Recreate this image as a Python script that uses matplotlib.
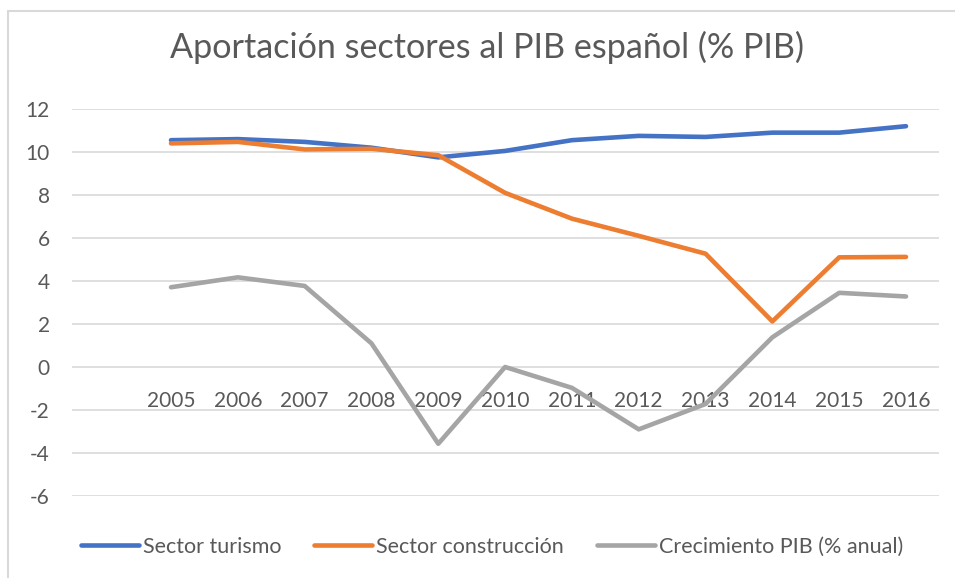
import matplotlib
matplotlib.use("Agg")
import matplotlib.pyplot as plt
from matplotlib.patches import Rectangle

years = [2005, 2006, 2007, 2008, 2009, 2010, 2011, 2012, 2013, 2014, 2015, 2016]
turismo = [10.55, 10.6, 10.47, 10.2, 9.75, 10.05, 10.55, 10.75, 10.7, 10.9, 10.9, 11.2]
construccion = [10.4, 10.47, 10.12, 10.15, 9.85, 8.1, 6.9, 6.1, 5.27, 2.12, 5.1, 5.12]
pib = [3.71, 4.17, 3.77, 1.1, -3.57, 0.0, -0.97, -2.9, -1.72, 1.38, 3.45, 3.28]
y_ticks = [-6, -4, -2, 0, 2, 4, 6, 8, 10, 12]

txt = '#595959'
plt.rcParams['font.family'] = ['Lato', 'DejaVu Sans']
plt.rcParams['axes.unicode_minus'] = False

fig = plt.figure(figsize=(9.55, 5.78), dpi=100)
W, H = 955, 578
ax = fig.add_axes([72 / W, 1 - 496 / H, (939 - 72) / W, (496 - 109) / H])

# chart area border
fig.patches.append(Rectangle((8 / W, -0.1), 1.2, 1 - 11 / H + 0.1, transform=fig.transFigure,
                             fill=False, edgecolor='#d9d9d9', lw=1.5))

ax.plot(years, turismo, color='#4472C4', lw=3.3, solid_capstyle='round', label='Sector turismo')
ax.plot(years, construccion, color='#ED7D31', lw=3.3, solid_capstyle='round', label='Sector construcción')
ax.plot(years, pib, color='#A5A5A5', lw=3.3, solid_capstyle='round', label='Crecimiento PIB (% anual)')

ax.set_ylim(-6, 12)
ax.set_xlim(2005 - 99 / 66.8, 2016 + 33 / 66.8)
ax.set_yticks(y_ticks)
ax.set_xticks(years)
ax.set_xticklabels([str(y) for y in years])
ax.yaxis.grid(True, color='#d9d9d9', lw=1.2)
ax.set_axisbelow(True)
for s in ax.spines.values():
    s.set_visible(False)
ax.spines['bottom'].set_position(('data', 0))
ax.tick_params(axis='x', length=0, pad=17, labelsize=15, colors=txt)
ax.tick_params(axis='y', length=0, pad=16, labelsize=15, colors=txt)

fig.text(487 / W, 1 - 47 / H, 'Aportación sectores al PIB español (% PIB)',
         ha='center', va='center', fontsize=24.6, color=txt)

fig.legend(loc='center', bbox_to_anchor=(492 / W, 1 - 547 / H), ncol=3, frameon=False,
           fontsize=15.5, labelcolor=txt, handlelength=2.7, handletextpad=0.2, columnspacing=1.5)

fig.savefig('out.png', dpi=100)
